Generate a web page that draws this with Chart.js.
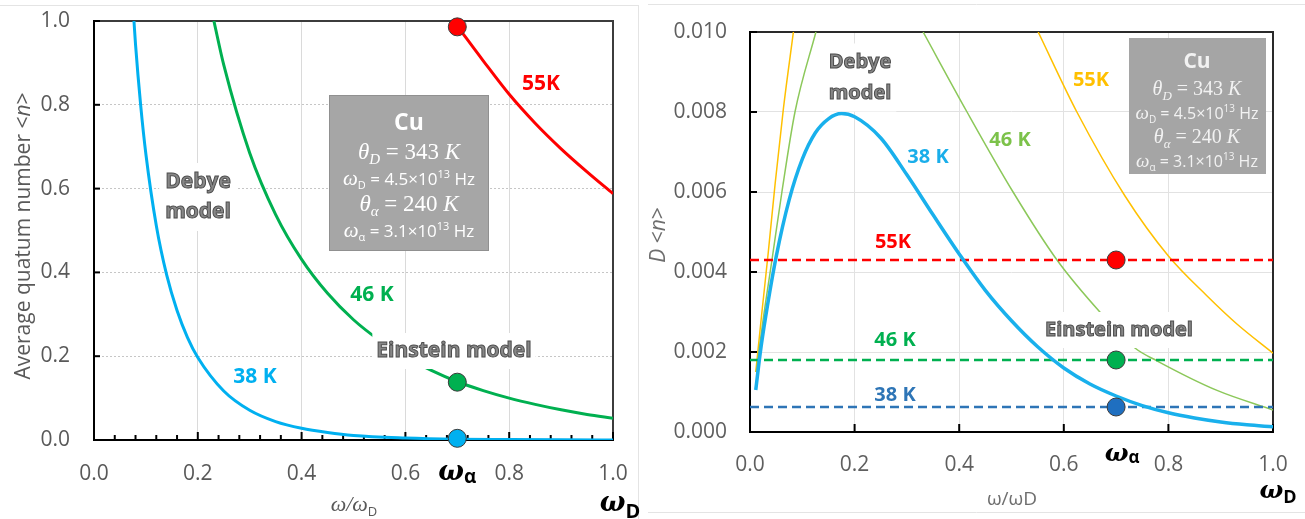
<!DOCTYPE html>
<html>
<head>
<meta charset="utf-8">
<script src="https://cdn.jsdelivr.net/npm/chart.js@4.4.1/dist/chart.umd.min.js"></script>
<style>
html, body { margin: 0; padding: 0; background: #fff; }
#wrapL { position: absolute; left: 0; top: 0; width: 640px; height: 519px; }
#wrapR { position: absolute; left: 640px; top: 0; width: 665px; height: 519px; }
</style>
</head>
<body>
<div id="wrapL"><canvas id="left"></canvas></div>
<div id="wrapR"><canvas id="right"></canvas></div>
<script>
// Cu: average quantum number <n> and D<n> against w/wD (Debye vs Einstein)

// --- left chart: <n> ---
var xTicksL = [0.0, 0.2, 0.4, 0.6, 0.8, 1.0];
var yTicksL = [0.0, 0.2, 0.4, 0.6, 0.8, 1.0];

var x38L = [0.077, 0.08, 0.09, 0.10, 0.12, 0.14, 0.16, 0.18, 0.20, 0.25, 0.30, 0.35, 0.40, 0.45, 0.50, 0.60, 0.70, 0.80, 0.90, 1.00];
var n38L = [1.0, 0.944, 0.798, 0.682, 0.512, 0.394, 0.309, 0.245, 0.197, 0.117, 0.071, 0.044, 0.028, 0.018, 0.011, 0.005, 0.002, 0.001, 0.0003, 0.0001];

var x46L = [0.231, 0.25, 0.30, 0.35, 0.40, 0.45, 0.50, 0.55, 0.60, 0.65, 0.70, 0.75, 0.80, 0.85, 0.90, 0.95, 1.00];
var n46L = [1.0, 0.895, 0.685, 0.538, 0.431, 0.350, 0.287, 0.238, 0.198, 0.166, 0.139, 0.118, 0.100, 0.085, 0.072, 0.061, 0.052];

var x55L = [0.70, 0.75, 0.80, 0.85, 0.90, 0.95, 1.00];
var n55L = [0.988, 0.905, 0.825, 0.756, 0.695, 0.640, 0.588];

// Einstein points at w_alpha (55K, 46K, 38K)
var omegaAlpha = [0.7, 0.7, 0.7];
var einsteinN = [0.986, 0.138, 0.004];

// --- right chart: D<n> ---
var x38R = [0.011, 0.02, 0.03, 0.05, 0.075, 0.10, 0.125, 0.15, 0.175, 0.20, 0.25, 0.30, 0.35, 0.40, 0.45, 0.50, 0.55, 0.60, 0.65, 0.70, 0.75, 0.80, 0.85, 0.90, 0.95, 1.00];
var d38R = [0.00105, 0.00202, 0.00289, 0.00438, 0.00581, 0.00682, 0.00748, 0.00783, 0.00796, 0.00788, 0.00735, 0.00643, 0.00543, 0.00445, 0.00354, 0.00278, 0.00213, 0.00160, 0.00120, 0.00090, 0.00066, 0.00048, 0.00035, 0.00025, 0.00018, 0.00013];

var x46Rup = [0.012, 0.025, 0.042, 0.061, 0.086, 0.126];
var d46Rup = [0.0015, 0.0028, 0.0043, 0.0060, 0.0080, 0.0100];
var x46Rdown = [0.331, 0.415, 0.503, 0.587, 0.669, 0.736, 0.778, 0.893, 1.0];
var d46Rdown = [0.0100, 0.0080, 0.0060, 0.0043, 0.0030, 0.0021, 0.00178, 0.00104, 0.00055];

var x55Rup = [0.011, 0.022, 0.035, 0.048, 0.064, 0.083];
var d55Rup = [0.0015, 0.0029, 0.0045, 0.0062, 0.0081, 0.0100];
var x55Rdown = [0.551, 0.625, 0.717, 0.80, 0.874, 0.931, 1.0];
var d55Rdown = [0.0100, 0.0080, 0.0059, 0.0044, 0.0034, 0.0027, 0.00197];

var einsteinD = [0.0043, 0.0018, 0.000625];
var lineEnds = [0, 1];

var fontFam = "'Open Sans', sans-serif";
var serif = '"Liberation Serif", serif';

function pts(xs, ys) {
    return xs.map(function (x, i) { return { x: x, y: ys[i] }; });
}

function curve(label, xs, ys, color, width) {
    return {
        label: label, data: pts(xs, ys), borderColor: color, borderWidth: width,
        pointRadius: 0, fill: false, cubicInterpolationMode: 'monotone'
    };
}

function dashed(label, level, color) {
    return {
        label: label, data: pts(lineEnds, [level, level]), borderColor: color, borderWidth: 2.5,
        borderDash: [9, 5], pointRadius: 0, fill: false
    };
}

function seg(ctx, x1, y1, x2, y2) {
    ctx.beginPath(); ctx.moveTo(x1, y1); ctx.lineTo(x2, y2); ctx.stroke();
}

// draw mixed-font text runs centred on cx, baseline cy
function runs(ctx, parts, cx, cy) {
    var w = 0;
    parts.forEach(function (p) { ctx.font = p[1]; w += ctx.measureText(p[0]).width; });
    var x = cx - w / 2;
    ctx.textAlign = 'left';
    ctx.textBaseline = 'alphabetic';
    parts.forEach(function (p) {
        ctx.font = p[1];
        ctx.fillText(p[0], x, cy + (p[2] || 0));
        x += ctx.measureText(p[0]).width;
    });
}

// grey outlined label on a white patch
function outlined(ctx, lines, cx, cy0, lh, font, padX, padY) {
    ctx.font = font;
    var w = Math.max.apply(null, lines.map(function (l) { return ctx.measureText(l).width; }));
    ctx.fillStyle = '#fff';
    ctx.fillRect(cx - w / 2 - padX, cy0 - lh / 2 - padY, w + 2 * padX, lh * lines.length + 2 * padY);
    ctx.textAlign = 'center';
    ctx.textBaseline = 'middle';
    lines.forEach(function (l, i) {
        ctx.fillStyle = '#878787';
        ctx.fillText(l, cx, cy0 + i * lh);
        ctx.lineWidth = 1;
        ctx.strokeStyle = '#4d4d4d';
        ctx.strokeText(l, cx, cy0 + i * lh);
    });
}

function label(ctx, text, cx, cy, color, size) {
    ctx.font = 'bold ' + size + 'px ' + fontFam;
    ctx.fillStyle = color;
    ctx.textAlign = 'center';
    ctx.textBaseline = 'middle';
    ctx.fillText(text, cx, cy);
}

function isMajor(v) {
    return Math.abs(v * 5 - Math.round(v * 5)) < 1e-6;
}

// keep tick labels from pushing the plot area inwards
function fixX(h) {
    return function (s) { s.height = h; s.paddingLeft = 0; s.paddingRight = 0; };
}
function fixY(w) {
    return function (s) { s.width = w; s.paddingTop = 0; s.paddingBottom = 0; };
}

var leftDeco = {
    id: 'leftDeco',
    beforeDatasetsDraw: function (chart) {
        var ctx = chart.ctx, a = chart.chartArea, sx = chart.scales.x, sy = chart.scales.y;
        ctx.save();
        ctx.strokeStyle = '#e4e4e4'; ctx.lineWidth = 1;
        seg(ctx, 0, 5.5, 638, 5.5);
        seg(ctx, 638.5, 5, 638.5, 519);
        ctx.lineWidth = 2;
        ctx.strokeStyle = '#3c3c3c';
        seg(ctx, a.left, a.top, a.right + 1, a.top);
        seg(ctx, a.right, a.top, a.right, a.bottom);
        ctx.strokeStyle = '#000';
        seg(ctx, a.left, a.top - 1, a.left, a.bottom + 1);
        seg(ctx, a.left - 1, a.bottom, a.right + 1, a.bottom);
        sx.ticks.forEach(function (t) {
            var px = sx.getPixelForValue(t.value);
            seg(ctx, px, a.bottom, px, a.bottom - (isMajor(t.value) ? 8 : 5));
        });
        sy.ticks.forEach(function (t) {
            var py = sy.getPixelForValue(t.value);
            seg(ctx, a.left, py, a.left + 6, py);
        });
        ctx.restore();
    },
    afterDatasetsDraw: function (chart) {
        var ctx = chart.ctx;
        ctx.save();
        label(ctx, '55K', 541, 84, '#ff0000', 21);
        label(ctx, '46 K', 372, 295, '#00b050', 21);
        label(ctx, '38 K', 255, 377, '#00b0f0', 21);
        outlined(ctx, ['Debye', 'model'], 198, 182, 30, 'bold 21px ' + fontFam, 6, 4);
        outlined(ctx, ['Einstein model'], 454, 351, 26, 'bold 21px ' + fontFam, 4, 5);

        // info box
        ctx.fillStyle = '#a6a6a6';
        ctx.fillRect(329, 95, 160, 156);
        ctx.strokeStyle = '#909090'; ctx.lineWidth = 1;
        ctx.strokeRect(329.5, 95.5, 159, 155);
        ctx.fillStyle = '#ffffff';
        runs(ctx, [['Cu', 'bold 23px ' + fontFam]], 409, 130);
        runs(ctx, [['θ', 'italic 23px ' + serif], ['D', 'italic 15px ' + serif, 5], [' = 343 ', '23px ' + serif], ['K', 'italic 23px ' + serif]], 409, 159);
        runs(ctx, [['ω', 'italic 21px ' + serif], ['D', '11px ' + fontFam, 4], [' = 4.5×10', '17px ' + fontFam], ['13', '11px ' + fontFam, -7], [' Hz', '17px ' + fontFam]], 409, 185);
        runs(ctx, [['θ', 'italic 23px ' + serif], ['α', 'italic 15px ' + serif, 5], [' = 240 ', '23px ' + serif], ['K', 'italic 23px ' + serif]], 409, 211);
        runs(ctx, [['ω', 'italic 21px ' + serif], ['α', '11px ' + fontFam, 4], [' = 3.1×10', '17px ' + fontFam], ['13', '11px ' + fontFam, -7], [' Hz', '17px ' + fontFam]], 409, 237);

        // axis annotations
        ctx.fillStyle = '#000';
        runs(ctx, [['ω', 'bold italic 27px "DejaVu Serif"'], ['α', 'bold 19px ' + fontFam, 3]], chart.scales.x.getPixelForValue(0.7), 480);
        runs(ctx, [['ω', 'bold italic 27px "DejaVu Serif"'], ['D', 'bold 20px ' + fontFam, 7]], 620, 511);
        ctx.fillStyle = '#595959';
        runs(ctx, [['ω/ω', 'italic 22px ' + serif], ['D', '13px ' + fontFam, 5]], 354, 511);
        ctx.translate(30, 236);
        ctx.rotate(-Math.PI / 2);
        runs(ctx, [['Average quatum number <', '21px ' + fontFam], ['n', 'italic 21px ' + fontFam], ['>', '21px ' + fontFam]], 0, 0);
        ctx.restore();
    }
};

var rightDeco = {
    id: 'rightDeco',
    beforeDatasetsDraw: function (chart) {
        var ctx = chart.ctx, a = chart.chartArea, sx = chart.scales.x, sy = chart.scales.y;
        ctx.save();
        ctx.strokeStyle = '#e4e4e4'; ctx.lineWidth = 1;
        seg(ctx, 8, 4.5, 665, 4.5);
        seg(ctx, 8, 512.5, 665, 512.5);
        ctx.lineWidth = 2;
        ctx.strokeStyle = '#2a2a2a';
        seg(ctx, a.left, a.top, a.right + 1, a.top);
        seg(ctx, a.right, a.top, a.right, a.bottom);
        ctx.strokeStyle = '#000';
        seg(ctx, a.left, a.top - 1, a.left, a.bottom + 1);
        seg(ctx, a.left - 1, a.bottom, a.right + 1, a.bottom);
        sx.ticks.forEach(function (t) {
            var px = sx.getPixelForValue(t.value);
            seg(ctx, px, a.bottom, px, a.bottom - 8);
        });
        sy.ticks.forEach(function (t) {
            var py = sy.getPixelForValue(t.value);
            seg(ctx, a.left, py, a.left + 7, py);
        });
        ctx.restore();
    },
    afterDatasetsDraw: function (chart) {
        var ctx = chart.ctx;
        ctx.save();
        outlined(ctx, ['Debye', 'model'], 220, 62, 31, 'bold 20px ' + fontFam, 5, 3);
        label(ctx, '38 K', 288, 157, '#1aaeea', 20);
        label(ctx, '46 K', 370, 140, '#7cc24a', 20);
        label(ctx, '55K', 451, 80, '#ffc000', 20);
        label(ctx, '55K', 253, 242, '#ff0000', 20);
        label(ctx, '46 K', 255, 340, '#00b050', 20);
        label(ctx, '38 K', 255, 395, '#2e75b6', 20);
        outlined(ctx, ['Einstein model'], 479, 330, 24, 'bold 20px ' + fontFam, 3, 6);

        ctx.fillStyle = '#a5a5a5';
        ctx.fillRect(489, 38, 137, 136);
        ctx.fillStyle = '#f2f2f2';
        runs(ctx, [['Cu', 'bold 21px ' + fontFam]], 557, 68);
        runs(ctx, [['θ', 'italic 20px ' + serif], ['D', 'italic 13px ' + serif, 5], [' = 343 ', '20px ' + serif], ['K', 'italic 20px ' + serif]], 557, 95);
        runs(ctx, [['ω', 'italic 19px ' + serif], ['D', '10px ' + fontFam, 4], [' = 4.5×10', '16px ' + fontFam], ['13', '10px ' + fontFam, -7], [' Hz', '16px ' + fontFam]], 557, 119);
        runs(ctx, [['θ', 'italic 20px ' + serif], ['α', 'italic 13px ' + serif, 5], [' = 240 ', '20px ' + serif], ['K', 'italic 20px ' + serif]], 557, 143);
        runs(ctx, [['ω', 'italic 19px ' + serif], ['α', '10px ' + fontFam, 4], [' = 3.1×10', '16px ' + fontFam], ['13', '10px ' + fontFam, -7], [' Hz', '16px ' + fontFam]], 557, 167);

        ctx.fillStyle = '#000';
        runs(ctx, [['ω', 'bold italic 25px "DejaVu Serif"'], ['α', 'bold 17px ' + fontFam, 2]], chart.scales.x.getPixelForValue(0.7) + 6, 461);
        runs(ctx, [['ω', 'bold italic 25px "DejaVu Serif"'], ['D', 'bold 18px ' + fontFam, 5]], 638, 498);
        ctx.fillStyle = '#6e6e6e';
        runs(ctx, [['ω/ωD', '19px ' + fontFam]], 372, 505);
        ctx.translate(25, 235);
        ctx.rotate(-Math.PI / 2);
        runs(ctx, [['D', 'italic 21px ' + fontFam], [' <', '21px ' + fontFam], ['n', 'italic 21px ' + fontFam], ['>', '21px ' + fontFam]], 0, 0);
        ctx.restore();
    }
};

var tickFont = { family: fontFam, size: 21 };

var leftChart = new Chart(document.getElementById('left'), {
    type: 'line',
    data: {
        datasets: [
            {
                label: 'Einstein model', data: pts(omegaAlpha, einsteinN), showLine: false,
                pointRadius: 9, pointHoverRadius: 9, pointBorderWidth: 1, pointBorderColor: '#3a3a3a',
                pointBackgroundColor: ['#ff0000', '#00b050', '#00b0f0'], clip: false
            },
            curve('55K', x55L, n55L, '#ff0000', 3),
            curve('46 K', x46L, n46L, '#00b050', 3),
            curve('38 K', x38L, n38L, '#00b0f0', 3)
        ]
    },
    options: {
        responsive: true,
        maintainAspectRatio: false,
        animation: false,
        events: [],
        layout: { padding: { left: 0, right: 27, top: 21, bottom: 0 } },
        plugins: { legend: { display: false }, tooltip: { enabled: false } },
        scales: {
            x: {
                type: 'linear', min: 0, max: 1,
                afterFit: fixX(79),
                border: { display: false },
                grid: {
                    drawTicks: false,
                    color: function (c) {
                        var v = c.tick ? c.tick.value : 0;
                        return (v > 0.01 && v < 0.99 && isMajor(v)) ? '#dadada' : 'rgba(0,0,0,0)';
                    }
                },
                ticks: {
                    stepSize: 0.04, autoSkip: false, maxTicksLimit: 100, maxRotation: 0, padding: 21,
                    font: tickFont, color: '#595959',
                    callback: function (v) {
                        return isMajor(v) && xTicksL.indexOf(Math.round(v * 5) / 5) >= 0 ? v.toFixed(1) : '';
                    }
                }
            },
            y: {
                min: 0, max: 1,
                afterFit: fixY(94),
                border: { display: false, dash: [2, 2] },
                grid: {
                    drawTicks: false,
                    color: function (c) {
                        var v = c.tick ? c.tick.value : 0;
                        return (v > 0.01 && v < 0.99) ? '#c6c6c6' : 'rgba(0,0,0,0)';
                    }
                },
                ticks: {
                    stepSize: 0.2, padding: 24, font: tickFont, color: '#595959',
                    callback: function (v) { return yTicksL.indexOf(Math.round(v * 5) / 5) >= 0 ? v.toFixed(1) : ''; }
                }
            }
        }
    },
    plugins: [leftDeco]
});

var rightChart = new Chart(document.getElementById('right'), {
    type: 'line',
    data: {
        datasets: [
            {
                label: 'Einstein model', data: pts(omegaAlpha, einsteinD), showLine: false,
                pointRadius: 9, pointHoverRadius: 9, pointBorderWidth: 1, pointBorderColor: '#3a3a3a',
                pointBackgroundColor: ['#ff0000', '#00b050', '#1f6fc0'], clip: false
            },
            curve('38 K', x38R, d38R, '#19b0ec', 3.5),
            dashed('55K', einsteinD[0], '#ff0000'),
            dashed('46 K', einsteinD[1], '#00b050'),
            dashed('38 K', einsteinD[2], '#2e75b6'),
            curve('46 K', x46Rup, d46Rup, '#8cc85a', 1.5),
            curve('46 K', x46Rdown, d46Rdown, '#8cc85a', 1.5),
            curve('55K', x55Rup, d55Rup, '#ffc000', 1.5),
            curve('55K', x55Rdown, d55Rdown, '#ffc000', 1.5)
        ]
    },
    options: {
        responsive: true,
        maintainAspectRatio: false,
        animation: false,
        events: [],
        layout: { padding: { left: 0, right: 32, top: 32, bottom: 0 } },
        plugins: { legend: { display: false }, tooltip: { enabled: false } },
        scales: {
            x: {
                type: 'linear', min: 0, max: 1,
                afterFit: fixX(87),
                border: { display: false },
                grid: {
                    drawTicks: false,
                    color: function (c) {
                        var v = c.tick ? c.tick.value : 0;
                        return (v > 0.01 && v < 0.99) ? '#e2e2e2' : 'rgba(0,0,0,0)';
                    }
                },
                ticks: {
                    stepSize: 0.2, maxRotation: 0, padding: 20, font: tickFont, color: '#5f5f5f',
                    callback: function (v) { return v.toFixed(1); }
                }
            },
            y: {
                min: 0, max: 0.01,
                afterFit: fixY(110),
                border: { display: false },
                grid: {
                    drawTicks: false,
                    color: function (c) {
                        var v = c.tick ? c.tick.value : 0;
                        return (v > 0.0001 && v < 0.0099) ? '#e2e2e2' : 'rgba(0,0,0,0)';
                    }
                },
                ticks: {
                    stepSize: 0.002, padding: 23, font: tickFont, color: '#5f5f5f',
                    callback: function (v) { return v.toFixed(3); }
                }
            }
        }
    },
    plugins: [rightDeco]
});
</script>
</body>
</html>
